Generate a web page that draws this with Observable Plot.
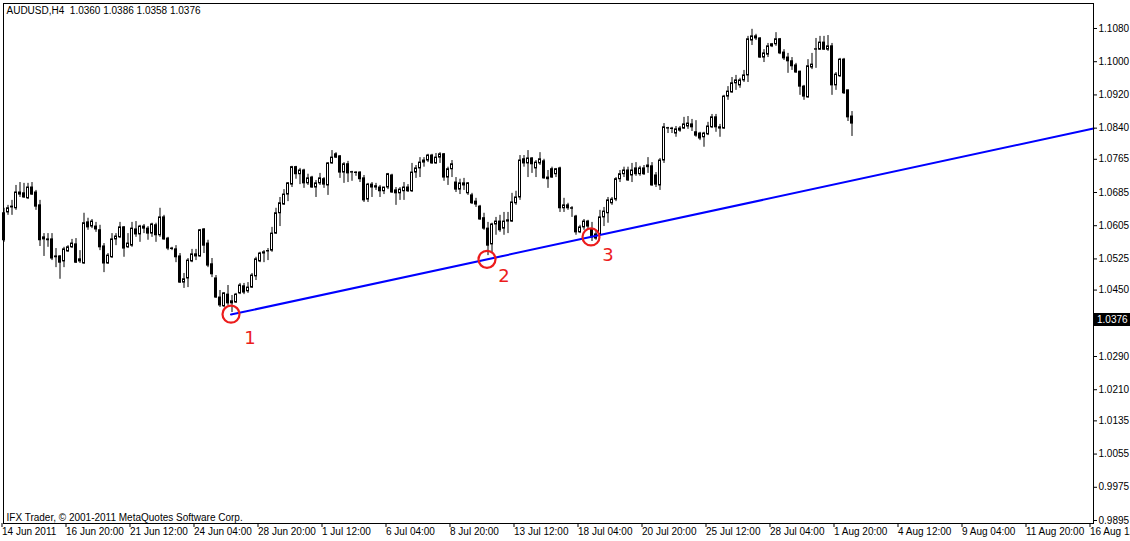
<!DOCTYPE html>
<html><head><meta charset="utf-8">
<script src="https://cdn.jsdelivr.net/npm/d3@7"></script>
<script src="https://cdn.jsdelivr.net/npm/@observablehq/plot@0.6"></script>
<style>
html,body{margin:0;padding:0;background:#fff;overflow:hidden;}
#chart svg{overflow:hidden;display:block;}
</style></head><body><div id="chart"></div>
<script>
const symbol = "AUDUSD,H4";
const lastQuote = [1.0360, 1.0386, 1.0358, 1.0376]; // O H L C
const footerText = "IFX Trader, \u00a9 2001-2011 MetaQuotes Software Corp.";

const opens = [
1.0570,1.0637,1.0649,1.0647,1.0685,1.0683,1.0671,1.0697,1.0685,1.0654,
1.0572,1.0572,1.0572,1.0531,1.0531,1.0519,1.0543,1.0553,1.0560,1.0524,
1.0514,1.0613,1.0603,1.0603,1.0594,1.0555,1.0514,1.0529,1.0572,1.0577,
1.0601,1.0553,1.0557,1.0596,1.0584,1.0603,1.0598,1.0586,1.0606,1.0582,
1.0625,1.0574,1.0550,1.0548,1.0531,1.0468,1.0478,1.0519,1.0536,1.0531,
1.0596,1.0562,1.0512,1.0478,1.0432,1.0411,1.0439,1.0418,1.0420,1.0442,
1.0459,1.0447,1.0456,1.0483,1.0519,1.0538,1.0543,1.0545,1.0586,1.0635,
1.0656,1.0680,1.0704,1.0746,1.0729,1.0738,1.0707,1.0721,1.0697,1.0707,
1.0717,1.0702,1.0755,1.0777,1.0772,1.0733,1.0753,1.0733,1.0733,1.0733,
1.0719,1.0668,1.0704,1.0700,1.0697,1.0688,1.0697,1.0726,1.0690,1.0683,
1.0688,1.0697,1.0688,1.0733,1.0743,1.0757,1.0762,1.0774,1.0755,1.0769,
1.0777,1.0721,1.0741,1.0709,1.0692,1.0707,1.0683,1.0678,1.0663,1.0651,
1.0623,1.0598,1.0560,1.0608,1.0615,1.0598,1.0615,1.0615,1.0659,1.0673,
1.0765,1.0755,1.0767,1.0743,1.0755,1.0760,1.0717,1.0741,1.0729,1.0743,
1.0647,1.0654,1.0647,1.0627,1.0589,1.0601,1.0615,1.0596,1.0574,1.0584,
1.0625,1.0635,1.0659,1.0668,1.0717,1.0729,1.0738,1.0726,1.0743,1.0729,
1.0743,1.0746,1.0748,1.0726,1.0702,1.0762,1.0839,1.0839,1.0827,1.0839,
1.0839,1.0844,1.0849,1.0830,1.0827,1.0818,1.0825,1.0842,1.0866,1.0842,
1.0839,1.0916,1.0926,1.0948,1.0943,1.0955,1.0967,1.1051,1.1061,1.1056,
1.1010,1.1017,1.1037,1.1042,1.1054,1.1022,1.1010,1.1001,1.0991,1.0976,
1.0940,1.0914,1.0986,1.1029,1.1029,1.1046,1.1029,1.1037,1.0943,1.0965,
1.1005,1.0931,1.0868];

const highs = [
1.0647,1.0654,1.0666,1.0702,1.0709,1.0707,1.0707,1.0709,1.0690,1.0666,
1.0586,1.0586,1.0586,1.0550,1.0533,1.0553,1.0557,1.0572,1.0574,1.0545,
1.0635,1.0623,1.0620,1.0613,1.0606,1.0562,1.0538,1.0586,1.0586,1.0613,
1.0603,1.0586,1.0613,1.0615,1.0606,1.0608,1.0603,1.0611,1.0611,1.0647,
1.0630,1.0577,1.0553,1.0557,1.0538,1.0490,1.0526,1.0548,1.0548,1.0596,
1.0598,1.0570,1.0526,1.0485,1.0449,1.0444,1.0461,1.0437,1.0442,1.0466,
1.0466,1.0468,1.0490,1.0529,1.0541,1.0545,1.0550,1.0601,1.0647,1.0673,
1.0692,1.0709,1.0748,1.0748,1.0743,1.0741,1.0729,1.0724,1.0714,1.0731,
1.0721,1.0757,1.0786,1.0781,1.0774,1.0757,1.0760,1.0736,1.0735,1.0735,
1.0726,1.0707,1.0709,1.0707,1.0702,1.0697,1.0731,1.0729,1.0697,1.0697,
1.0709,1.0704,1.0755,1.0750,1.0769,1.0769,1.0777,1.0777,1.0779,1.0781,
1.0779,1.0746,1.0762,1.0721,1.0717,1.0719,1.0709,1.0683,1.0671,1.0654,
1.0635,1.0613,1.0611,1.0625,1.0630,1.0637,1.0637,1.0683,1.0688,1.0774,
1.0774,1.0786,1.0769,1.0762,1.0781,1.0765,1.0738,1.0746,1.0743,1.0746,
1.0671,1.0659,1.0651,1.0630,1.0606,1.0620,1.0618,1.0613,1.0594,1.0642,
1.0649,1.0673,1.0673,1.0721,1.0738,1.0746,1.0746,1.0755,1.0757,1.0748,
1.0750,1.0769,1.0757,1.0733,1.0767,1.0851,1.0842,1.0842,1.0844,1.0844,
1.0866,1.0868,1.0861,1.0858,1.0830,1.0830,1.0854,1.0873,1.0873,1.0849,
1.0919,1.0940,1.0962,1.0967,1.0960,1.0979,1.1061,1.1078,1.1066,1.1058,
1.1029,1.1044,1.1044,1.1070,1.1056,1.1029,1.1020,1.1010,1.0996,1.0977,
1.0943,1.1005,1.1020,1.1056,1.1061,1.1061,1.1063,1.1044,1.0974,1.1008,
1.1008,1.0931,1.0880];

const lows = [
1.0565,1.0630,1.0630,1.0642,1.0673,1.0671,1.0668,1.0678,1.0642,1.0555,
1.0531,1.0553,1.0521,1.0504,1.0476,1.0504,1.0541,1.0550,1.0514,1.0514,
1.0512,1.0594,1.0598,1.0589,1.0545,1.0492,1.0512,1.0526,1.0557,1.0574,
1.0529,1.0550,1.0553,1.0577,1.0565,1.0586,1.0570,1.0577,1.0565,1.0577,
1.0570,1.0545,1.0545,1.0516,1.0466,1.0454,1.0456,1.0516,1.0521,1.0529,
1.0538,1.0504,1.0480,1.0430,1.0408,1.0408,1.0413,1.0396,1.0418,1.0439,
1.0439,1.0442,1.0454,1.0473,1.0516,1.0516,1.0521,1.0541,1.0584,1.0603,
1.0654,1.0663,1.0697,1.0717,1.0704,1.0695,1.0702,1.0695,1.0673,1.0702,
1.0695,1.0678,1.0753,1.0767,1.0719,1.0707,1.0709,1.0712,1.0724,1.0709,
1.0661,1.0661,1.0673,1.0690,1.0673,1.0680,1.0692,1.0683,1.0654,1.0666,
1.0666,1.0685,1.0685,1.0719,1.0721,1.0746,1.0757,1.0753,1.0753,1.0755,
1.0712,1.0702,1.0721,1.0685,1.0680,1.0690,1.0678,1.0656,1.0649,1.0618,
1.0594,1.0533,1.0538,1.0582,1.0589,1.0582,1.0586,1.0613,1.0654,1.0666,
1.0746,1.0721,1.0731,1.0721,1.0750,1.0717,1.0695,1.0719,1.0721,1.0637,
1.0637,1.0642,1.0625,1.0582,1.0586,1.0594,1.0598,1.0567,1.0570,1.0582,
1.0603,1.0611,1.0654,1.0663,1.0709,1.0721,1.0712,1.0709,1.0724,1.0724,
1.0726,1.0731,1.0700,1.0697,1.0690,1.0755,1.0827,1.0827,1.0818,1.0830,
1.0837,1.0837,1.0832,1.0818,1.0810,1.0794,1.0822,1.0839,1.0830,1.0818,
1.0837,1.0907,1.0924,1.0931,1.0936,1.0950,1.0950,1.1039,1.1051,1.1008,
1.0998,1.1010,1.1034,1.1037,1.1017,1.1003,1.0972,1.0979,1.0972,1.0919,
1.0907,1.0912,1.0981,1.0984,1.1027,1.1027,1.1025,1.0919,1.0931,1.0962,
1.0921,1.0856,1.0820];

const closes = [
1.0635,1.0647,1.0651,1.0685,1.0680,1.0673,1.0697,1.0680,1.0651,1.0570,
1.0577,1.0570,1.0526,1.0529,1.0516,1.0548,1.0553,1.0562,1.0516,1.0519,
1.0611,1.0601,1.0615,1.0596,1.0553,1.0514,1.0533,1.0572,1.0579,1.0601,
1.0550,1.0562,1.0598,1.0584,1.0603,1.0598,1.0586,1.0608,1.0582,1.0625,
1.0572,1.0550,1.0549,1.0529,1.0468,1.0476,1.0521,1.0536,1.0531,1.0594,
1.0557,1.0509,1.0488,1.0432,1.0413,1.0442,1.0418,1.0423,1.0439,1.0461,
1.0444,1.0456,1.0485,1.0524,1.0538,1.0541,1.0544,1.0586,1.0635,1.0659,
1.0680,1.0707,1.0746,1.0729,1.0738,1.0707,1.0719,1.0697,1.0707,1.0719,
1.0704,1.0755,1.0769,1.0769,1.0733,1.0753,1.0731,1.0734,1.0732,1.0717,
1.0666,1.0704,1.0697,1.0697,1.0688,1.0697,1.0729,1.0685,1.0683,1.0692,
1.0697,1.0688,1.0733,1.0743,1.0757,1.0762,1.0774,1.0755,1.0769,1.0777,
1.0721,1.0741,1.0753,1.0692,1.0707,1.0702,1.0707,1.0659,1.0656,1.0620,
1.0598,1.0557,1.0608,1.0615,1.0594,1.0615,1.0618,1.0661,1.0673,1.0762,
1.0755,1.0767,1.0753,1.0757,1.0765,1.0719,1.0721,1.0721,1.0741,1.0647,
1.0654,1.0647,1.0646,1.0589,1.0601,1.0615,1.0603,1.0577,1.0584,1.0625,
1.0639,1.0666,1.0668,1.0717,1.0729,1.0738,1.0714,1.0738,1.0729,1.0743,
1.0729,1.0750,1.0702,1.0704,1.0762,1.0842,1.0840,1.0838,1.0837,1.0834,
1.0849,1.0851,1.0842,1.0822,1.0815,1.0827,1.0844,1.0866,1.0842,1.0839,
1.0916,1.0928,1.0948,1.0955,1.0955,1.0967,1.1054,1.1061,1.1056,1.1010,
1.1020,1.1037,1.1042,1.1054,1.1020,1.1008,1.1001,1.0989,1.0974,1.0940,
1.0916,1.0989,1.0993,1.1030,1.1046,1.1029,1.1037,1.0943,1.0969,1.1005,
1.0924,1.0866,1.0851];

// x-axis: bar numbers carrying a time label
const xTickBars = [0,16,32,48,64,80,96,112,128,144,160,176,192,208,224,240,256,272];
const xLabels = ["14 Jun 2011","16 Jun 20:00","21 Jun 12:00","24 Jun 04:00","28 Jun 20:00","1 Jul 12:00","6 Jul 04:00","8 Jul 20:00","13 Jul 12:00","18 Jul 04:00","20 Jul 20:00","25 Jul 12:00","28 Jul 04:00","1 Aug 20:00","4 Aug 12:00","9 Aug 04:00","11 Aug 20:00","16 Aug 12:00"];
// y-axis price ticks
const yTicks = [1.1080,1.1000,1.0920,1.0840,1.0765,1.0685,1.0605,1.0525,1.0450,1.0290,1.0210,1.0135,1.0055,0.9975,0.9895];

// trend line (bar, price) and the three touch points
const trendBars = [56.75, 272.375];
const trendPrices = [1.0391, 1.0839];
const pivotBars = [56.75, 120.75, 146.75];
const pivotPrices = [1.0392, 1.0524, 1.0578];
const pivotLabels = ["1","2","3"];
const pivotLabelBars = [61.5, 125, 151];
const pivotLabelPrices = [1.0334, 1.0483, 1.0533];

const bars = opens.map((o, i) => ({i, open: o, high: highs[i], low: lows[i], close: closes[i], up: closes[i] >= o}));
const trend = trendBars.map((b, k) => ({b, p: trendPrices[k]}));
const pivots = pivotBars.map((b, k) => ({b, p: pivotPrices[k]}));
const pivotText = pivotLabels.map((t, k) => ({t, b: pivotLabelBars[k], p: pivotLabelPrices[k]}));
const titleText = symbol + "\u00a0 " + lastQuote.map(v => v.toFixed(4)).join(" ");

const FONT = '"Liberation Sans", Arial, sans-serif';
const chart = Plot.plot({
  width: 1130, height: 541,
  marginLeft: 3, marginRight: 37, marginTop: 3, marginBottom: 18,
  style: {fontFamily: FONT, fontSize: "10px", color: "#000", background: "#fff"},
  x: {domain: [-0.125, 272.375], label: null},
  y: {domain: [0.98878, 1.11402], label: null},
  color: {type: "identity"},
  marks: [
    Plot.ruleX(bars, {x: "i", y1: "low", y2: "high", stroke: "#000", strokeWidth: 1}),
    Plot.rect(bars, {x1: d => d.i - 0.25, x2: d => d.i + 0.25, y1: "open", y2: "close",
      fill: d => d.up ? "#fff" : "#000", stroke: "#000", strokeWidth: 1}),
    Plot.line(trend, {x: "b", y: "p", stroke: "#0000ff", strokeWidth: 2}),
    Plot.dot(pivots, {x: "b", y: "p", r: 8.5, stroke: "#ec1c1c", strokeWidth: 2.2, fill: "none"}),
    Plot.text(pivotText, {x: "b", y: "p", text: "t", fill: "#ec1c1c", fontSize: 18, fontFamily: '"DejaVu Sans", sans-serif'}),
    Plot.text([titleText], {frameAnchor: "top-left", dx: 3, dy: 3, lineAnchor: "top", textAnchor: "start", fill: "#000", fontSize: 10}),
    Plot.text([footerText], {frameAnchor: "bottom-left", dx: 3, dy: -3, lineAnchor: "bottom", textAnchor: "start", fill: "#000", fontSize: 10}),
    Plot.frame({stroke: "#000"}),
    Plot.axisY({anchor: "right", ticks: yTicks, tickFormat: d => d.toFixed(4), tickSize: 3, tickPadding: 2, label: null}),
    Plot.axisX({anchor: "bottom", ticks: xTickBars.map(b => b - 0.5), tickFormat: d => xLabels[xTickBars.indexOf(d + 0.5)], tickSize: 4, tickPadding: 0, textAnchor: "start", label: null})
  ]
});

// current price box on the price scale
const yPx = chart.scale("y").apply(lastQuote[3]);
const g = d3.select(chart).append("g").attr("font-family", FONT).attr("font-size", 10).attr("text-anchor", "start");
g.append("rect").attr("x", 1094).attr("y", Math.round(yPx) - 7).attr("width", 36).attr("height", 13).attr("fill", "#000");
g.append("text").attr("x", 1097).attr("y", yPx).attr("dy", "0.32em").attr("fill", "#fff").attr("text-anchor", "start").text(lastQuote[3].toFixed(4));

document.getElementById("chart").appendChild(chart);
</script>
</body></html>
